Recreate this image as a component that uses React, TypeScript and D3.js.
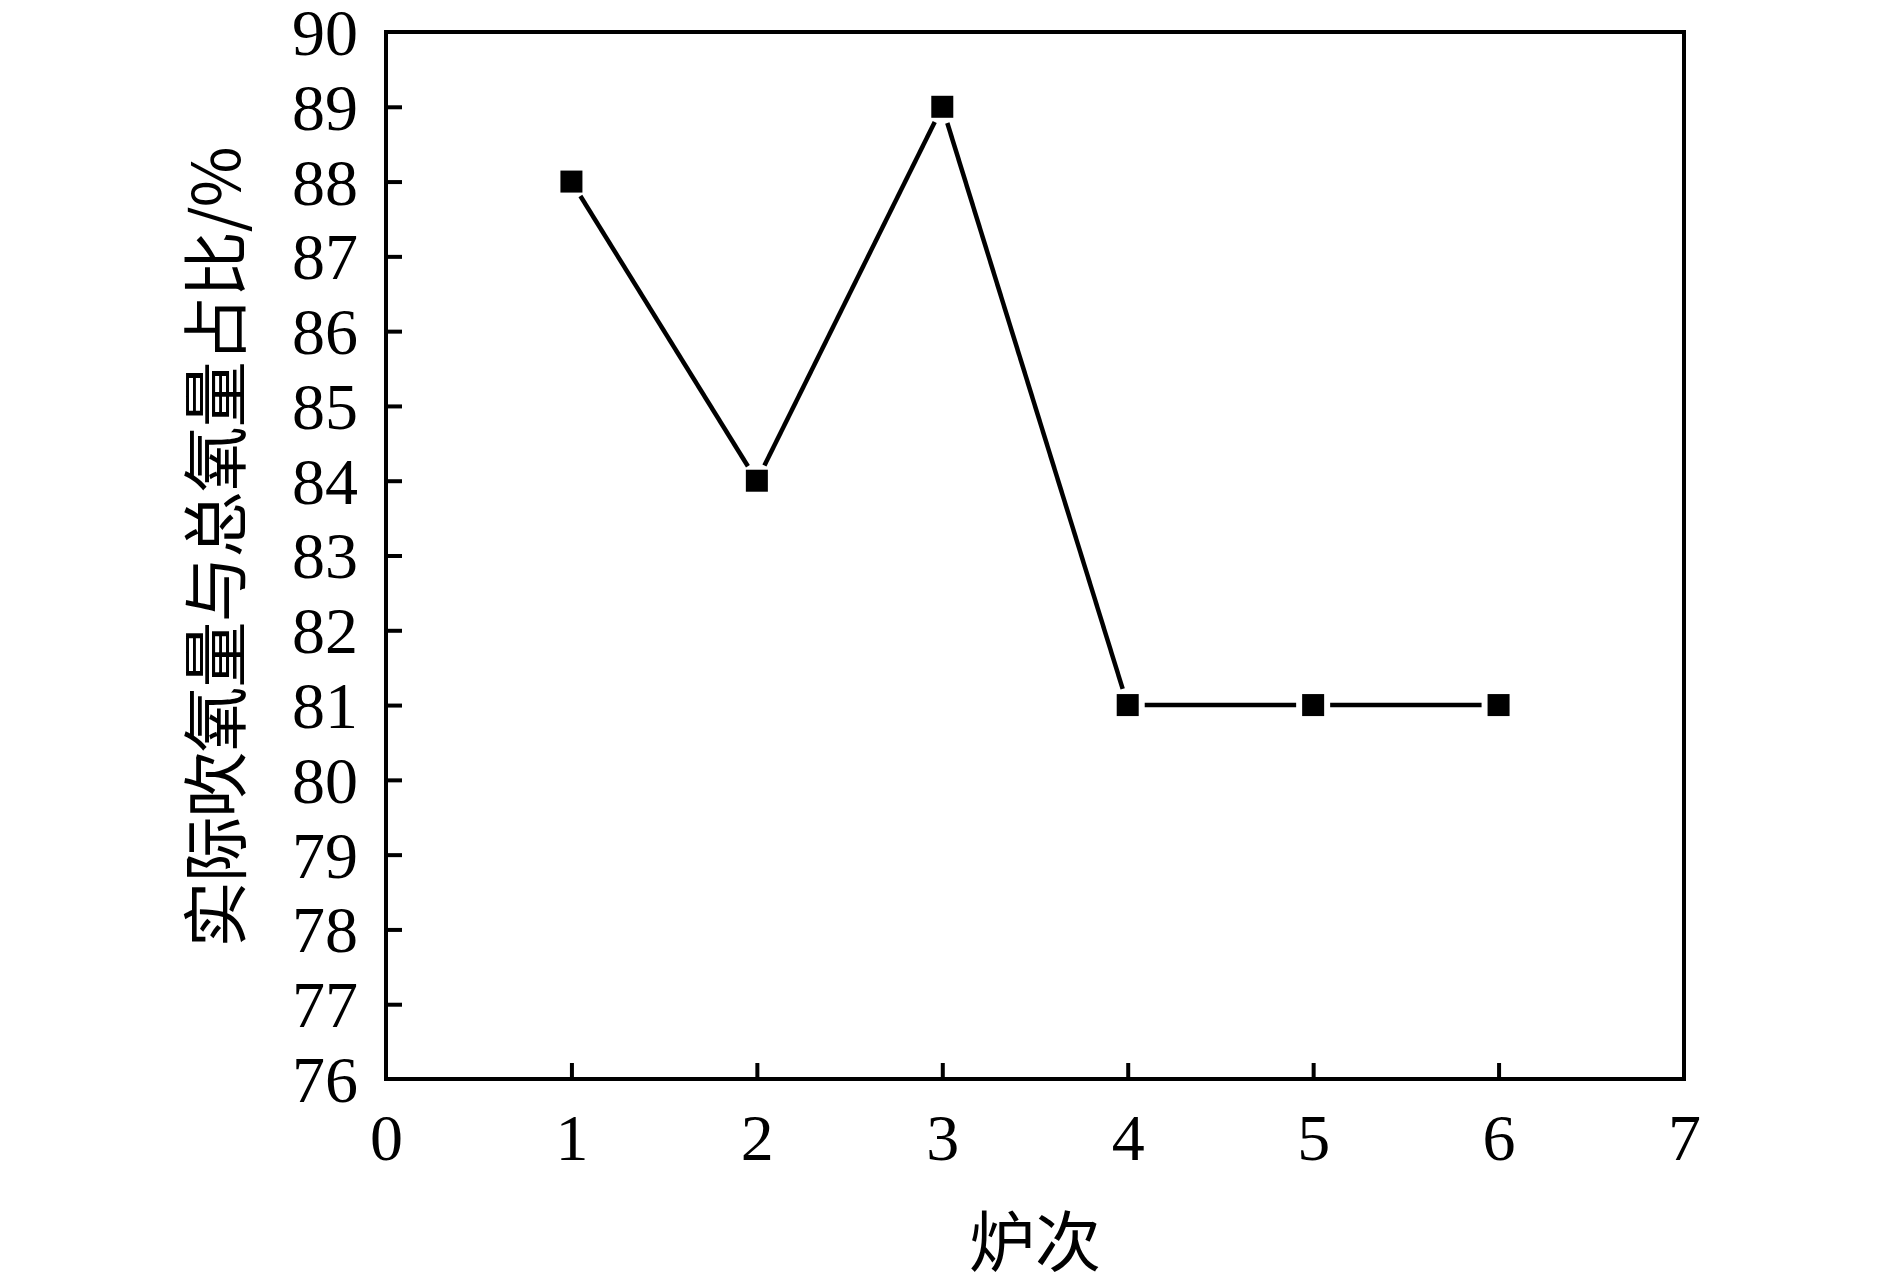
import React, { useEffect, useRef } from "react";
import * as d3 from "d3";

// heat number vs. ratio of actual blown oxygen to total oxygen
const heats = [1, 2, 3, 4, 5, 6];
const ratioValues = [88, 84, 89, 81, 81, 81];
const xTicks = [0, 1, 2, 3, 4, 5, 6, 7];
const yTicks = [76, 77, 78, 79, 80, 81, 82, 83, 84, 85, 86, 87, 88, 89, 90];
const xLabel = "炉次";
const yLabel = "实际吹氧量与总氧量占比/%";

const WIDTH = 1890;
const HEIGHT = 1280;

const App: React.FC = () => {
  const svgRef = useRef<SVGSVGElement | null>(null);

  useEffect(() => {
    if (!svgRef.current) return;

    const margin = { top: 32, right: 206, bottom: 201, left: 386 };
    const chartWidth = WIDTH - margin.left - margin.right;
    const chartHeight = HEIGHT - margin.top - margin.bottom;

    const svg = d3.select(svgRef.current);
    svg.selectAll("*").remove();

    const g = svg
      .append("g")
      .attr("transform", `translate(${margin.left},${margin.top})`);

    const x = d3.scaleLinear().domain([0, 7]).range([0, chartWidth]);
    const y = d3.scaleLinear().domain([76, 90]).range([chartHeight, 0]);

    const serif = "'Liberation Serif', 'Times New Roman', serif";
    const cjk = "'Noto Sans CJK SC', 'Liberation Serif', serif";

    // X axis - ticks inside, labels below
    g.append("g")
      .attr("transform", `translate(0,${chartHeight})`)
      .call(d3.axisBottom(x).tickValues(xTicks).tickSize(-16).tickPadding(0).tickFormat(d3.format("d")))
      .call(a => a.select(".domain").remove())
      .call(a => a.selectAll(".tick line")
        .attr("stroke", "#000")
        .attr("stroke-width", 4)
        .attr("display", (d: any) => (d === 0 || d === 7 ? "none" : null)))
      .call(a => a.selectAll(".tick text")
        .attr("fill", "#000")
        .attr("font-family", serif)
        .attr("font-size", 66)
        .attr("dy", null)
        .attr("y", 81));

    // Y axis
    g.append("g")
      .call(d3.axisLeft(y).tickValues(yTicks).tickSize(-16).tickPadding(0).tickFormat(d3.format("d")))
      .call(a => a.select(".domain").remove())
      .call(a => a.selectAll(".tick line")
        .attr("stroke", "#000")
        .attr("stroke-width", 4)
        .attr("display", (d: any) => (d === 76 || d === 90 ? "none" : null)))
      .call(a => a.selectAll(".tick text")
        .attr("fill", "#000")
        .attr("font-family", serif)
        .attr("font-size", 66)
        .attr("x", -28)
        .attr("dy", "0.34em"));

    // Frame
    g.append("rect")
      .attr("x", 0)
      .attr("y", 0)
      .attr("width", chartWidth)
      .attr("height", chartHeight)
      .attr("fill", "none")
      .attr("stroke", "#000")
      .attr("stroke-width", 4);

    const points = heats.map((h, i) => ({ px: x(h), py: y(ratioValues[i]) }));

    // Line segments, trimmed so they stop short of the markers
    const gap = 17;
    const segs = d3.pairs(points).map(([a, b]) => {
      const dx = b.px - a.px;
      const dy = b.py - a.py;
      const len = Math.hypot(dx, dy);
      const ux = dx / len;
      const uy = dy / len;
      return {
        x1: a.px + ux * gap,
        y1: a.py + uy * gap,
        x2: b.px - ux * gap,
        y2: b.py - uy * gap
      };
    });

    g.selectAll(".seg")
      .data(segs)
      .join("line")
      .attr("class", "seg")
      .attr("x1", d => d.x1)
      .attr("y1", d => d.y1)
      .attr("x2", d => d.x2)
      .attr("y2", d => d.y2)
      .attr("stroke", "#000")
      .attr("stroke-width", 4.5);

    const size = 22;
    g.selectAll(".marker")
      .data(points)
      .join("rect")
      .attr("class", "marker")
      .attr("x", d => d.px - size / 2)
      .attr("y", d => d.py - size / 2)
      .attr("width", size)
      .attr("height", size)
      .attr("fill", "#000");

    // Axis titles
    svg.append("text")
      .attr("x", margin.left + chartWidth / 2)
      .attr("y", 1237)
      .attr("text-anchor", "middle")
      .attr("dominant-baseline", "central")
      .attr("font-family", cjk)
      .attr("font-size", 66)
      .attr("fill", "#000")
      .text(xLabel);

    svg.append("text")
      .attr("transform", `translate(211,547) rotate(-90)`)
      .attr("text-anchor", "middle")
      .attr("dominant-baseline", "central")
      .attr("font-family", cjk)
      .attr("font-size", 66)
      .attr("fill", "#000")
      .attr("textLength", 801)
      .attr("lengthAdjust", "spacing")
      .text(yLabel);
  }, []);

  return (
    <div style={{ position: "absolute", left: 0, top: 0, width: WIDTH, height: HEIGHT, background: "#fff" }}>
      <svg ref={svgRef} width={WIDTH} height={HEIGHT} style={{ display: "block" }}></svg>
    </div>
  );
};

export default App;
